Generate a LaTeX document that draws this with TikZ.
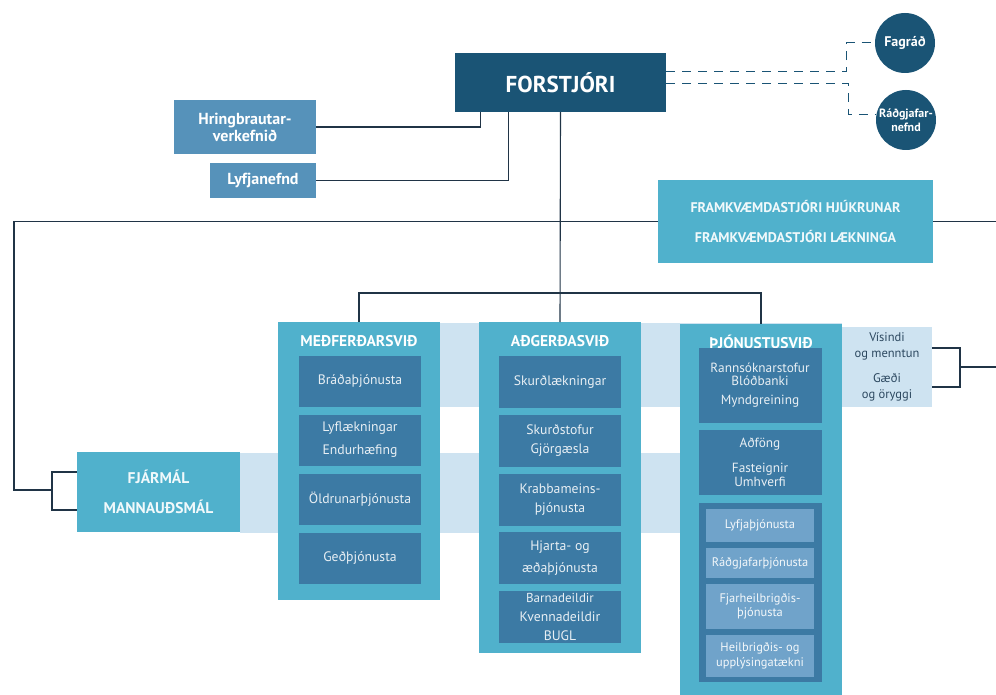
\documentclass[tikz,border=0pt]{standalone}
\usepackage{fontspec}
\setmainfont{PT Sans}
\usetikzlibrary{calc, positioning, backgrounds}

\definecolor{navyF}{RGB}{26,84,117}
\definecolor{steelH}{RGB}{86,146,186}
\definecolor{cyanC}{RGB}{80,177,204}
\definecolor{blueI}{RGB}{60,122,164}
\definecolor{paleL}{RGB}{112,163,202}
\definecolor{bandB}{RGB}{206,227,241}
\definecolor{wireW}{RGB}{32,52,70}
\definecolor{textV}{RGB}{44,72,96}

\tikzset{
    wire/.style={draw=wireW, line width=1.1pt},
    dashW/.style={draw=navyF, line width=1pt, dash pattern=on 9pt off 7pt},
    boxN/.style={rectangle, fill=navyF, text=white, font=\bfseries\fontsize{23}{26}\selectfont},
    boxS/.style={rectangle, fill=steelH, text=white, font=\bfseries\fontsize{16}{17}\selectfont},
    boxC/.style={rectangle, fill=cyanC, text=white!92!cyanC, font=\bfseries\fontsize{14}{30}\selectfont},
    circN/.style={circle, fill=navyF, text=white, minimum size=60pt, font=\bfseries\fontsize{12}{14}\selectfont},
    colbox/.style={rectangle, fill=cyanC, minimum width=162pt, anchor=north},
    head/.style={text=white, font=\bfseries\fontsize{15.5}{17}\selectfont},
    boxI/.style={rectangle, fill=blueI, text=white!88!blueI, minimum width=122pt, font=\fontsize{13.7}{19}\selectfont},
    boxL/.style={rectangle, fill=paleL, text=white!92!paleL, minimum width=108pt, font=\fontsize{12.4}{14.5}\selectfont},
    bandV/.style={rectangle, fill=bandB, text=textV, font=\fontsize{12.5}{16}\selectfont}
}

\begin{document}
\begin{tikzpicture}[x=1pt, y=-1pt]
    \tikzstyle{every node}=[inner sep=0pt, align=center];
    \useasboundingbox (0,0) rectangle (996,695);
    % light bands behind the columns
    \fill[bandB] (278,323) rectangle (842,407);
    \fill[bandB] (240,453) rectangle (680,533);

    \node[boxN, minimum width=211, minimum height=59] (fo) at (560.5,82.5) {FORSTJÓRI};
    \node[boxS, minimum width=142, minimum height=54] (hr) at (245,127) {Hringbrautar-\\verkefnið};
    \node[boxS, minimum width=106, minimum height=35] (ly) at (263,180.5) {Lyfjanefnd};
    \node[circN, font=\bfseries\fontsize{14}{15}\selectfont] (fag) at (905,43) {Fagráð};
    \node[circN] (rad) at (906,120) {Ráðgjafar-\\nefnd};
    \node[boxC, minimum width=275, minimum height=83] (fr) at (795.5,221.5) {FRAMKVÆMDASTJÓRI HJÚKRUNAR\\FRAMKVÆMDASTJÓRI LÆKNINGA};
    \node[boxC, minimum width=163, minimum height=80, font=\bfseries\fontsize{15.5}{30}\selectfont] (fj) at (158.5,492) {FJÁRMÁL\\MANNAUÐSMÁL};
    \node[bandV, minimum width=90, minimum height=80] (vis) at (887,367) {Vísindi\\og menntun\\[9pt]Gæði\\og öryggi};

    \node[colbox, minimum height=278] (med) at (359,322) {};
    \node[colbox, minimum height=331] (adg) at (560,322) {};
    \node[colbox, minimum height=371] (thj) at (761,324) {};
    \node[head] (medh) at (359,341) {MEÐFERÐARSVIÐ};
    \node[head] (adgh) at (560,341) {AÐGERÐASVIÐ};
    \node[head] (thjh) at (761,342) {ÞJÓNUSTUSVIÐ};

    \foreach \t [count=\i] in {Bráðaþjónusta, {Lyflækningar\\[4pt]Endurhæfing}, Öldrunarþjónusta, Geðþjónusta}
        \node[boxI, minimum height=51] (med\i) at (360,{381+59*(\i-1)}) {\t};
    \foreach \t [count=\i] in {Skurðlækningar, {Skurðstofur\\Gjörgæsla}, {Krabbameins-\\þjónusta}, {Hjarta- og\\[3pt]æðaþjónusta}, {\fontsize{13}{13}\selectfont Barnadeildir\\Kvennadeildir\\BUGL}}
        \node[boxI, minimum height=52] (adg\i) at (560,{382+58.75*(\i-1)}) {\t};

    \node[boxI, minimum width=123, minimum height=75, font=\fontsize{13.3}{13}\selectfont] (thj1) at (760,385.5) {Rannsóknarstofur\\Blóðbanki\\[6pt]Myndgreining};
    \node[boxI, minimum width=123, minimum height=65, font=\fontsize{13.3}{14}\selectfont] (thj2) at (760,462.5) {Aðföng\\[11pt]Fasteignir\\Umhverfi};
    \node[boxI, minimum width=123, minimum height=179] (grp) at (760,592.5) {};
    \foreach \t/\y/\h [count=\i] in {Lyfjaþjónusta/525.5/33, Ráðgjafarþjónusta/563/30, {Fjarheilbrigðis-\\þjónusta}/606.5/45, {Heilbrigðis- og\\upplýsingatækni}/656/42}
        \node[boxL, minimum height=\h] (lt\i) at (760,\y) {\t};

    \draw[wire] ([xshift=-80]fo.south) |- (hr.east);
    \draw[wire] ([xshift=-52]fo.south) |- (ly.east);
    \draw[wire] (fo.south) -- (adg.north);
    \draw[wire] (med.north) -- ++(0,-29) -| (thj.north);

    \coordinate (lc) at (14,490);
    \coordinate (lb) at (52,490);
    \draw[wire] (fr.west) -| (lc) -- (lb);
    \draw[wire] ([yshift=20]fj.west) -| (lb) |- ([yshift=-18]fj.west);
    \coordinate (re) at (996,221.5);
    \draw[wire] (fr.east) -- (re);

    \coordinate (vb) at (960,367);
    \coordinate (vr) at (996,367);
    \draw[wire] ([yshift=19]vis.east) -| (vb) |- ([yshift=-20]vis.east);
    \draw[wire] (vb) -- (vr);

    \draw[dashW] ([yshift=11]fo.east) -| ($(fag.west)+(-28,0)$) -- (fag.west);
    \draw[dashW] ([yshift=-1]fo.east) -| ($(rad.170)+(-28,0)$) -- (rad.170);
\end{tikzpicture}
\end{document}
